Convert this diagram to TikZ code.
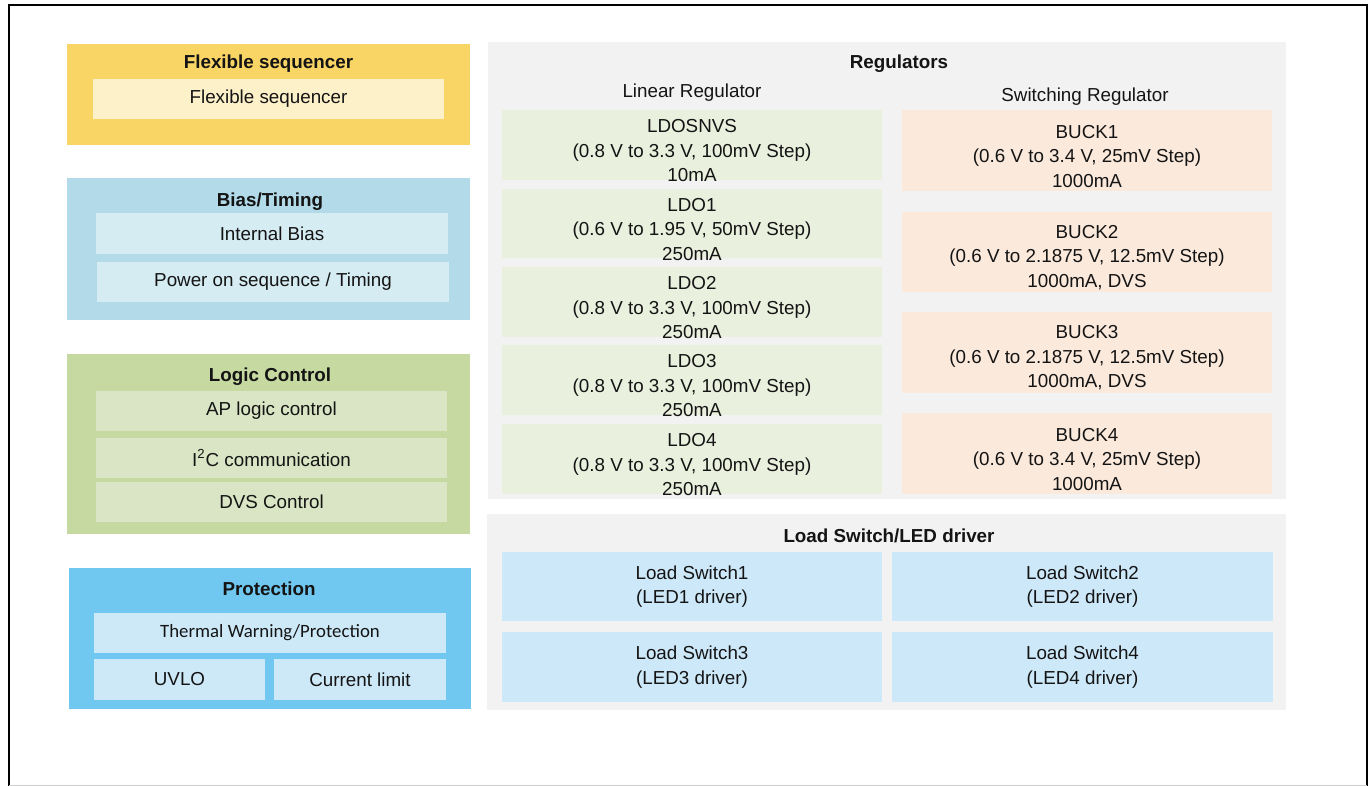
\documentclass[tikz,border=0pt]{standalone}
\usepackage{fontspec}
\setmainfont{Liberation Sans}
\newfontfamily\calfont{Carlito}
\definecolor{seqdark}{HTML}{F9D566}
\definecolor{seqlight}{HTML}{FDF1C9}
\definecolor{biasdark}{HTML}{B2DAE8}
\definecolor{biaslight}{HTML}{D6ECF3}
\definecolor{logicdark}{HTML}{C5D9A1}
\definecolor{logiclight}{HTML}{D9E5C4}
\definecolor{protdark}{HTML}{70C8F0}
\definecolor{protlight}{HTML}{CDE9F8}
\definecolor{panelgray}{HTML}{F2F2F2}
\definecolor{ldofill}{HTML}{EAF0DE}
\definecolor{buckfill}{HTML}{FBE9DC}
\definecolor{lsfill}{HTML}{CDE8F8}
\begin{document}
\begin{tikzpicture}[x=0.5pt, y=-0.5pt,
    every node/.style={font=\fontsize{9.4}{12.25}\selectfont, text=black!92, inner sep=0pt, align=center},
    boxsize/.style 2 args={minimum width=#1*0.5pt, minimum height=#2*0.5pt},
    title/.style={font=\fontsize{9.4}{12.25}\selectfont\bfseries},
    regtext/.style={label={[yshift=-2.8pt]center:{#1}}}]
  \useasboundingbox (0,0) rectangle (1370,786);
  % frame
  \draw[line width=1pt] (9,786) -- (9,5) -- (1367,5) -- (1367,786);
  \draw[gray!40] (9,785) -- (1367,785);

  % left column
  \node[fill=seqdark, boxsize={403}{101}] (seq) at (268.5,94.5) {};
  \node[title] (seqtitle) at (268.5,64) {Flexible sequencer};
  \node[fill=seqlight, boxsize={351}{40}] (seqin) at (268.5,99) {Flexible sequencer};

  \node[fill=biasdark, boxsize={403}{142}] (bias) at (268.5,249) {};
  \node[title] (biastitle) at (270,202) {Bias/Timing};
  \node[fill=biaslight, boxsize={352}{41}] (ibias) at (272,233.5) {Internal Bias};
  \node[fill=biaslight, boxsize={352}{40}] (pwron) at (273,282) {Power on sequence / Timing};

  \node[fill=logicdark, boxsize={403}{180}] (logic) at (268.5,444) {};
  \node[title] (logictitle) at (270,377) {Logic Control};
  \node[fill=logiclight, boxsize={351}{40}] (aplogic) at (271.5,411) {AP logic control};
  \node[fill=logiclight, boxsize={351}{40}] (iic) at (271.5,458) {I\textsuperscript{2}C communication};
  \node[fill=logiclight, boxsize={351}{40}] (dvs) at (271.5,502) {DVS Control};

  \node[fill=protdark, boxsize={402}{141}] (prot) at (270,638.5) {};
  \node[title] (prottitle) at (269,589) {Protection};
  \node[fill=protlight, boxsize={352}{40}, font=\fontsize{9.4}{12.25}\calfont] (thermal) at (270,633) {Thermal Warning/Protection};
  \node[fill=protlight, boxsize={171}{41}] (uvlo) at (179.5,679.5) {UVLO};
  \node[fill=protlight, boxsize={172}{41}] (ilim) at (360,679.5) {Current limit};

  % regulators
  \node[fill=panelgray, boxsize={798}{457}] (reg) at (887,270.5) {};
  \node[title] (regtitle) at (899,64) {Regulators};
  \node (lintitle) at (692,93) {Linear Regulator};
  \node (swtitle) at (1085,97) {Switching Regulator};

  \node[fill=ldofill, boxsize={380}{70}, regtext={LDOSNVS\\(0.8 V to 3.3 V, 100mV Step)\\10mA}] (ldosnvs) at (692,145) {};
  \node[fill=ldofill, boxsize={380}{69}, regtext={LDO1\\(0.6 V to 1.95 V, 50mV Step)\\250mA}] (ldo1) at (692,223.5) {};
  \node[fill=ldofill, boxsize={380}{70}, regtext={LDO2\\(0.8 V to 3.3 V, 100mV Step)\\250mA}] (ldo2) at (692,302) {};
  \node[fill=ldofill, boxsize={380}{70}, regtext={LDO3\\(0.8 V to 3.3 V, 100mV Step)\\250mA}] (ldo3) at (692,380) {};
  \node[fill=ldofill, boxsize={380}{70}, regtext={LDO4\\(0.8 V to 3.3 V, 100mV Step)\\250mA}] (ldo4) at (692,459) {};

  \node[fill=buckfill, boxsize={370}{81}, regtext={BUCK1\\(0.6 V to 3.4 V, 25mV Step)\\1000mA}] (buck1) at (1087,150.5) {};
  \node[fill=buckfill, boxsize={370}{80}, regtext={BUCK2\\(0.6 V to 2.1875 V, 12.5mV Step)\\1000mA, DVS}] (buck2) at (1087,252) {};
  \node[fill=buckfill, boxsize={370}{81}, regtext={BUCK3\\(0.6 V to 2.1875 V, 12.5mV Step)\\1000mA, DVS}] (buck3) at (1087,352.5) {};
  \node[fill=buckfill, boxsize={370}{81}, regtext={BUCK4\\(0.6 V to 3.4 V, 25mV Step)\\1000mA}] (buck4) at (1087,453.5) {};

  % load switches
  \node[fill=panelgray, boxsize={799}{196}] (load) at (886.5,612) {};
  \node[title] (loadtitle) at (889,536) {Load Switch/LED driver};
  \node[fill=lsfill, boxsize={380}{69}] (ls1) at (692,586.5) {Load Switch1\\(LED1 driver)};
  \node[fill=lsfill, boxsize={381}{69}] (ls2) at (1082.5,586.5) {Load Switch2\\(LED2 driver)};
  \node[fill=lsfill, boxsize={380}{70}] (ls3) at (692,667) {Load Switch3\\(LED3 driver)};
  \node[fill=lsfill, boxsize={381}{70}] (ls4) at (1082.5,667) {Load Switch4\\(LED4 driver)};
\end{tikzpicture}
\end{document}
